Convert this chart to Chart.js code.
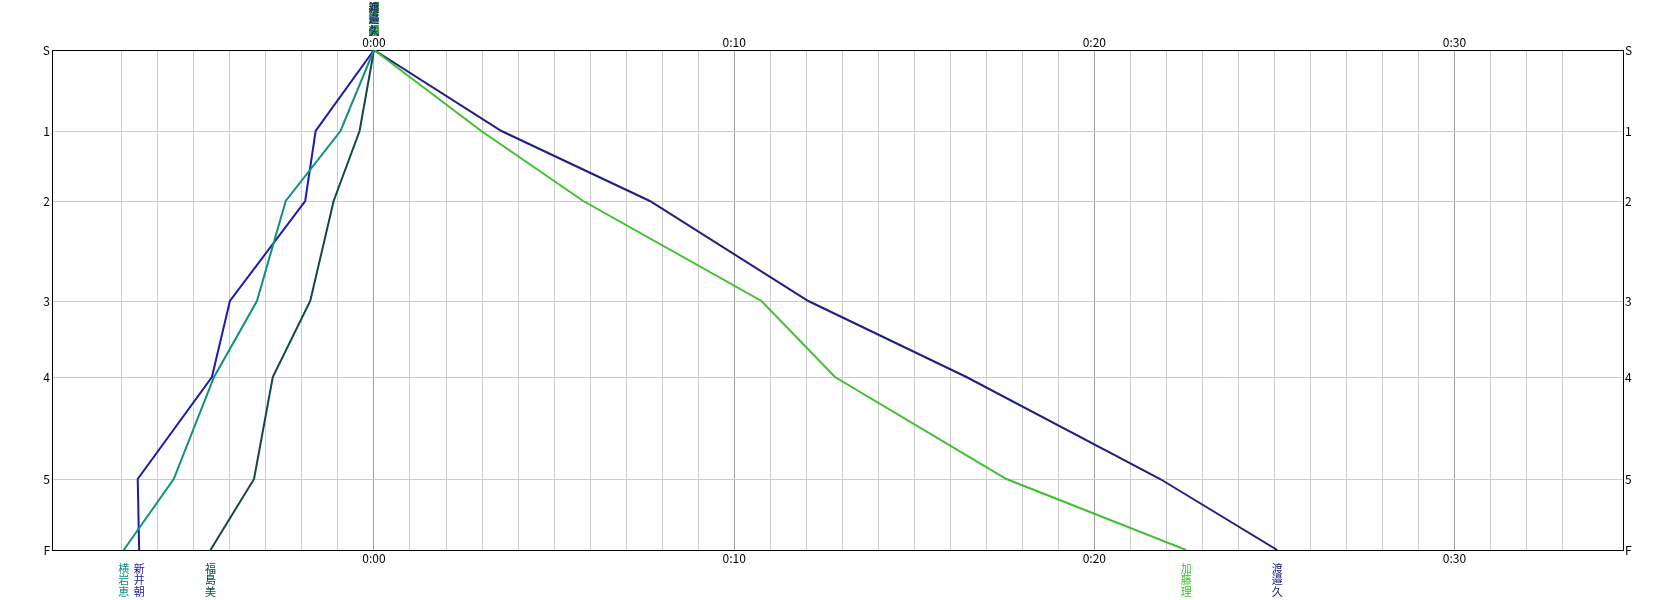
<!DOCTYPE html>
<html>
<head>
<meta charset="utf-8">
<script src="https://cdn.jsdelivr.net/npm/chart.js@4/dist/chart.umd.min.js"></script>
<style>
  body { margin: 0; background: #fff; }
  #wrap { width: 1674px; height: 600px; position: relative; }
</style>
</head>
<body>
<div id="wrap"><canvas id="splitChart"></canvas></div>
<script>
// controls (S..F) and their position down the course
const controlLabels = ['S', '1', '2', '3', '4', '5', 'F'];
const controlPos = [0, 81, 151, 251, 327, 429, 500];

// time difference in minutes at each control
const names = ['横岩恵', '新井朝', '福島美', '加藤理', '渡邉久'];
const yokoiwa   = [0, -0.93, -2.45, -3.25, -4.44, -5.56, -6.95];
const arai      = [0, -1.62, -1.91, -4.00, -4.50, -6.56, -6.52];
const fukushima = [0, -0.40, -1.12, -1.77, -2.81, -3.33, -4.54];
const kato      = [0, 2.98, 5.81, 10.76, 12.80, 17.56, 22.55];
const watanabe  = [0, 3.54, 7.66, 12.06, 16.45, 21.83, 25.08];
const colors = ['#109080', '#1c1ca8', '#104848', '#40c030', '#202080'];

const timeMin = -8.94;
const timeMax = 34.68;

const FONT = "'Noto Sans CJK JP', 'DejaVu Sans', sans-serif";

function fmtTime(v) {
    const r = Math.round(v);
    if (Math.abs(v - r) > 1e-6 || r % 10 !== 0) return '';
    return Math.floor(r / 60) + ':' + String(r % 60).padStart(2, '0');
}

function isMajor(v) {
    const r = Math.round(v);
    return Math.abs(v - r) < 1e-6 && r % 10 === 0;
}

// vertical runner names above the start and below the finish
const nameLabels = {
    id: 'nameLabels',
    afterDraw(chart) {
        const c = chart.ctx;
        const xs = chart.scales.x;
        c.save();
        c.font = '11px ' + FONT;
        c.textAlign = 'center';
        c.textBaseline = 'top';
        chart.data.datasets.forEach((ds, i) => {
            c.fillStyle = ds.borderColor;
            const start = xs.getPixelForValue(ds.data[0].x);
            const end = xs.getPixelForValue(ds.data[ds.data.length - 1].x);
            [...ds.label].forEach((ch, k) => {
                c.fillText(ch, start, 2 + k * 11.7);
                c.fillText(ch, end, 563 + k * 11.7);
            });
        });
        c.restore();
    }
};

function createSplitChart() {
    const ctx = document.getElementById('splitChart');
    const series = [yokoiwa, arai, fukushima, kato, watanabe];

    const datasets = series.map((times, i) => ({
        label: names[i],
        data: times.map((t, k) => ({ x: t, y: controlPos[k] })),
        borderColor: colors[i],
        borderWidth: 2,
        pointRadius: 0,
        tension: 0,
        fill: false
    }));

    const xTicks = {
        stepSize: 1,
        autoSkip: false,
        maxRotation: 0,
        padding: 1,
        color: '#000',
        font: { family: FONT, size: 12 },
        callback: v => fmtTime(v)
    };
    const yTicks = {
        padding: 2,
        color: '#000',
        font: { family: FONT, size: 12 },
        callback: v => controlLabels[controlPos.indexOf(v)]
    };
    const setYTicks = s => { s.ticks = controlPos.map(v => ({ value: v })); };

    new Chart(ctx, {
        type: 'line',
        data: { datasets },
        options: {
            responsive: true,
            maintainAspectRatio: false,
            animation: false,
            layout: { padding: 0 },
            scales: {
                x: {
                    type: 'linear', position: 'bottom', min: timeMin, max: timeMax,
                    ticks: xTicks,
                    grid: { color: c => isMajor(c.tick.value) ? '#a0a0a0' : '#cccccc', drawTicks: false },
                    border: { color: '#000', width: 1 },
                    afterFit: s => { s.height = 50; }
                },
                x2: {
                    type: 'linear', position: 'top', min: timeMin, max: timeMax,
                    ticks: Object.assign({}, xTicks, { padding: 0 }),
                    grid: { drawOnChartArea: false, drawTicks: false },
                    border: { color: '#000', width: 1 },
                    afterFit: s => { s.height = 50; }
                },
                y: {
                    type: 'linear', position: 'left', reverse: true, min: 0, max: 500,
                    afterBuildTicks: setYTicks,
                    ticks: yTicks,
                    grid: { color: '#cccccc', drawTicks: false },
                    border: { color: '#000', width: 1 },
                    afterFit: s => { s.width = 52; }
                },
                y2: {
                    type: 'linear', position: 'right', reverse: true, min: 0, max: 500,
                    afterBuildTicks: setYTicks,
                    ticks: yTicks,
                    grid: { drawOnChartArea: false, drawTicks: false },
                    border: { color: '#000', width: 1 },
                    afterFit: s => { s.width = 51; }
                }
            },
            plugins: {
                legend: { display: false },
                tooltip: { enabled: false }
            }
        },
        plugins: [nameLabels]
    });
}

document.addEventListener('DOMContentLoaded', () => {
    createSplitChart();
});
</script>
</body>
</html>
